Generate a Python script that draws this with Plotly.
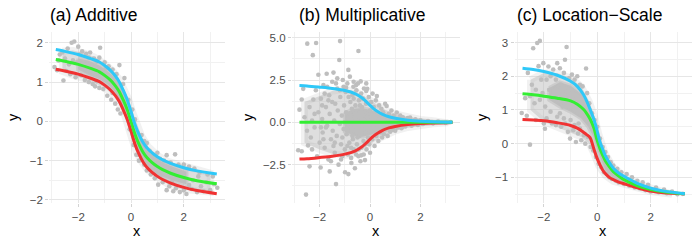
import plotly.graph_objects as go

# ---------------- data ----------------
titles = ["(a) Additive", "(b) Multiplicative", "(c) Location\u2212Scale"]

# Panel (a) quantile curves
xa_curve = [-2.85, -2.5, -2, -1.5, -1.2, -1, -0.8, -0.6, -0.45, -0.3, -0.15, 0, 0.15, 0.3, 0.45, 0.6, 0.8, 1, 1.2, 1.5, 2, 2.5, 3.25]
a_blue = [1.825, 1.78, 1.70, 1.59, 1.51, 1.42, 1.31, 1.16, 1.01, 0.80, 0.56, 0.25, -0.08, -0.33, -0.53, -0.67, -0.80, -0.90, -0.98, -1.07, -1.18, -1.26, -1.34]
a_green = [1.575, 1.53, 1.45, 1.34, 1.26, 1.17, 1.06, 0.91, 0.76, 0.55, 0.31, 0.0, -0.33, -0.58, -0.78, -0.92, -1.05, -1.15, -1.23, -1.32, -1.43, -1.51, -1.59]
a_red = [1.325, 1.28, 1.20, 1.09, 1.01, 0.92, 0.81, 0.66, 0.51, 0.30, 0.06, -0.25, -0.58, -0.83, -1.03, -1.17, -1.30, -1.40, -1.48, -1.57, -1.68, -1.76, -1.84]

# Panel (a) cloud: sparse outer zone and dense core
a_outer_x = [-2.6, -2.2, -1.8, -1.4, -1.0, -0.7, -0.45, -0.25, -0.1, 0.05, 0.2, 0.4, 0.65, 1.0, 1.4, 1.9, 2.4, 3.0]
a_outer_hi = [1.78, 1.8, 1.74, 1.64, 1.47, 1.29, 1.08, 0.84, 0.58, 0.26, -0.07, -0.37, -0.64, -0.86, -1.02, -1.12, -1.22, -1.32]
a_outer_lo = [1.27, 1.17, 1.09, 1.0, 0.86, 0.68, 0.44, 0.17, -0.16, -0.48, -0.78, -1.03, -1.25, -1.44, -1.6, -1.72, -1.78, -1.8]
a_band_x = [-2.0, -1.6, -1.2, -0.9, -0.6, -0.4, -0.2, 0, 0.2, 0.4, 0.6, 0.9, 1.2, 1.6, 2.1]
a_band_hi = [1.6, 1.54, 1.42, 1.28, 1.1, 0.88, 0.6, 0.18, -0.26, -0.54, -0.74, -0.92, -1.05, -1.16, -1.28]
a_band_lo = [1.32, 1.18, 1.08, 0.95, 0.74, 0.5, 0.22, -0.18, -0.64, -0.91, -1.1, -1.3, -1.41, -1.51, -1.6]

# Panel (a) scattered points
a_pts_x = [-2.25, -2.15, -2.4, -2.0, -1.85, -1.7, -1.55, -1.4, -1.2, -1.17, -1.0, -0.85, -0.7, -0.44, -0.55, -0.3, -0.25, -2.7, -2.6, -1.95, -1.6, -1.3, -0.95,
           -2.9, -2.8, -2.56, -2.3, -2.1, -1.9, -1.75, -1.6, -1.45, -1.36, -1.2, -1.05, -0.9, -0.75, -0.6, -0.5, -0.4, -2.45, -1.3, -0.7,
           -0.1, 0.05, 0.15, -0.05, 0.1, 0.25, 0.3, 0.2,
           0.4, 0.5, 0.6, 0.7, 0.85, 0.95, 1.1, 1.25, 1.35, 1.5, 1.67, 1.8, 2.0, 2.2, 2.4, 2.6, 2.9, 3.1, 1.0, 0.55,
           0.5, 0.6, 0.75, 0.9, 1.03, 1.2, 1.35, 1.45, 1.6, 1.7, 1.85, 2.0, 2.1, 2.3, 2.5, 2.75, 3.0, 3.27, 0.4, 0.3, 1.1, 1.55, 2.2, 2.65, 0.8,
           -2.75, -2.5, -2.35, -2.2, -2.05, -1.8, -1.65, -1.5, -1.25, -1.1, 1.3, 1.75, 1.95, 2.35, 2.55, 2.85, 3.15]
a_pts_y = [2.0, 2.03, 1.85, 1.9, 1.78, 1.72, 1.75, 1.6, 1.62, 1.87, 1.5, 1.4, 1.32, 1.43, 1.2, 0.95, 1.1, 1.7, 1.75, 1.7, 1.62, 1.52, 1.35,
           1.38, 1.3, 1.04, 1.2, 1.12, 1.18, 1.05, 1.0, 0.95, 0.89, 0.85, 0.82, 0.65, 0.55, 0.45, 0.3, 0.2, 1.28, 1.02, 0.72,
           0.55, 0.3, 0.05, -0.2, -0.6, -0.3, -1.0, -0.85,
           -0.35, -0.5, -0.55, -0.75, -0.85, -0.95, -0.95, -1.0, -0.86, -1.05, -0.84, -1.1, -1.1, -1.15, -1.2, -1.3, -1.35, -1.4, -0.8, -0.65,
           -1.1, -1.25, -1.35, -1.45, -1.61, -1.55, -1.75, -1.65, -1.78, -1.7, -1.8, -1.75, -1.85, -1.72, -1.8, -1.78, -1.75, -1.69, -0.95, -0.85, -1.4, -1.55, -1.62, -1.65, -1.2,
           1.55, 1.6, 1.45, 1.55, 1.5, 1.45, 1.3, 1.4, 1.3, 1.2, -1.3, -1.45, -1.35, -1.5, -1.4, -1.55, -1.6]

# Panel (b) quantile curves
xb_curve = [-2.8, -2.5, -2, -1.5, -1, -0.6, -0.3, -0.15, 0, 0.15, 0.3, 0.5, 0.75, 1, 1.5, 2, 2.5, 3.27]
b_blue = [2.17, 2.15, 2.08, 2.0, 1.88, 1.7, 1.42, 1.22, 1.0, 0.8, 0.64, 0.47, 0.33, 0.24, 0.13, 0.07, 0.035, 0.01]
b_red = [-2.17, -2.15, -2.08, -2.0, -1.88, -1.7, -1.42, -1.22, -1.0, -0.8, -0.64, -0.47, -0.33, -0.24, -0.13, -0.07, -0.035, -0.01]
xb_green = [-2.8, 3.27]
b_green = [0.0, 0.0]

b_outer_x = [-2.6, -2.0, -1.5, -1.0, -0.6, -0.3, 0, 0.3, 0.6, 1.0, 1.5, 2.0, 2.5, 3.1]
b_outer_hi = [1.2, 1.6, 1.85, 1.95, 1.85, 1.6, 1.3, 1.0, 0.75, 0.5, 0.3, 0.17, 0.09, 0.03]
b_outer_lo = [-1.2, -1.6, -1.85, -1.95, -1.85, -1.6, -1.3, -1.0, -0.75, -0.5, -0.3, -0.17, -0.09, -0.03]
b_band_x = [-1.0, -0.6, -0.3, 0, 0.3, 0.6, 1.0, 1.5, 2.0, 2.5, 3.1]
b_band_hi = [0.55, 0.8, 0.85, 0.75, 0.6, 0.45, 0.3, 0.18, 0.1, 0.05, 0.02]
b_band_lo = [-0.55, -0.8, -0.85, -0.75, -0.6, -0.45, -0.3, -0.18, -0.1, -0.05, -0.02]

b_pts_x = [-2.85, -2.71, -2.71, -2.65, -2.54, -2.49, -2.46, -2.6, -2.5, -2.4, -2.35, -2.3, -2.27, -2.25, -2.2, -2.14, -2.1, -2.05, -2.05, -2.0, -2.8, -2.4, -2.15, -2.3,
           -1.96, -1.95, -1.9, -1.88, -1.85, -1.8, -1.75, -1.72, -1.7, -1.65, -1.62, -1.6, -1.55, -1.5, -1.48, -1.45, -1.42, -1.4, -1.38, -1.35, -1.32, -1.3, -1.28, -1.25,
           -1.22, -1.2, -1.19, -1.18, -1.15, -1.12, -1.1, -1.08, -1.05, -1.03, -1.0, -1.0, -1.85, -1.5, -1.6, -1.3, -1.1, -1.45, -1.9, -1.75,
           -0.99, -0.97, -0.95, -0.93, -0.9, -0.88, -0.86, -0.86, -0.84, -0.82, -0.8, -0.78, -0.76, -0.74, -0.72, -0.7, -0.68, -0.66, -0.64, -0.62, -0.6, -0.58,
           -0.56, -0.54, -0.52, -0.5, -0.48, -0.46, -0.46, -0.44, -0.42, -0.4, -0.38, -0.37, -0.35, -0.34, -0.32, -0.3, -0.9, -0.8, -0.7, -0.6, -0.5, -0.4, -0.65, -0.55, -0.85, -0.75,
           -0.28, -0.26, -0.24, -0.22, -0.2, -0.18, -0.16, -0.14, -0.11, -0.1, -0.08, -0.05, -0.03, 0.0, 0.02, 0.05, 0.08, 0.1, 0.12, 0.15, 0.18, 0.2, 0.23, 0.25, 0.27, 0.3, 0.33, 0.36, 0.4, 0.45, 0.48, -0.25, 0.0, -0.15,
           0.52, 0.55, 0.6, 0.62, 0.66, 0.7, 0.75, 0.8, 0.85, 0.9, 0.95, 1.0, 1.06, 1.1, 1.2, 1.25, 1.3, 1.4, 1.5, 1.59, 1.65, 1.8, 1.9, 2.0, 2.1, 2.3, 2.5, 2.7, 3.0, 3.2, 0.7, 0.9, 1.15,
           -1.7, -1.55, -1.35, -1.15, -0.95, -0.75, -0.55, -0.35, -0.15, -1.65, -1.4, -1.2, -0.9, -0.65, -0.45, -0.2, -2.2, -1.95, -1.8, -1.05]
b_pts_y = [-1.65, -1.71, 1.35, 1.98, -4.27, 4.65, -1.36, 0.3, -0.5, 0.9, -0.9, 0.1, 3.97, 1.35, -0.3, 4.69, -2.0, 2.81, 0.6, -1.2, 0.75, -2.6, 1.9, -1.6,
           -2.67, 1.4, 0.2, -0.6, 2.2, -1.5, 0.9, 2.87, -0.2, -2.2, 1.6, 0.5, -1.0, 2.4, -0.5, 2.94, 0.1, -1.8, 1.1, -3.65, -0.8, 2.0, 0.7, -2.5,
           3.68, -0.1, 4.8, 1.5, -1.3, 0.4, -2.0, 2.5, -0.4, 1.0, -1.6, 0.0, -1.0, 1.2, -2.9, 2.6, -0.9, -1.4, 1.0, -0.3,
           -2.95, 1.8, 0.6, -0.7, 2.3, -1.9, 3.1, -3.06, 0.2, -1.2, 2.7, 1.2, -0.3, -2.4, 0.8, 1.6, -1.0, 2.1, -1.6, 0.4, -2.71, 1.0,
           -0.5, 1.9, -1.3, 0.1, 2.3, 4.22, -2.0, 1.3, -0.8, 0.6, -2.3, 2.42, 1.7, -1.5, 0.9, -0.2, -0.4, 0.5, -0.8, 0.3, -0.9, 1.0, 1.4, -1.9, 1.5, -1.5,
           1.4, -1.1, 2.0, 0.4, -2.23, -0.6, 1.1, -1.6, 1.98, 0.3, -0.9, 1.5, -1.3, 0.7, -0.4, 1.2, -1.0, 1.7, -0.3, 0.9, -1.4, 0.3, 1.3, -0.8, 1.55, 0.5, -1.1, 1.0, -0.6, 0.8, -0.9, -1.9, -1.8, 2.3,
           0.6, -0.7, 1.1, -0.4, 0.97, -0.8, 0.5, -0.55, 0.7, -0.45, 0.4, -0.5, 0.58, -0.3, 0.4, -0.35, 0.3, -0.25, 0.25, 0.29, -0.2, 0.18, -0.15, 0.12, -0.1, 0.08, -0.06, 0.05, -0.03, 0.02, 0.2, 0.1, -0.15,
           2.1, -2.3, 2.3, -2.2, 2.05, -2.1, 2.2, -1.95, 1.85, 1.3, -1.2, 1.9, -1.4, 2.4, -1.6, -1.3, 0.5, -0.3, 1.7, 2.1]

# Panel (c) quantile curves
xc_curve = [-2.8, -2.4, -2, -1.5, -1, -0.75, -0.52, -0.4, -0.27, -0.12, -0.025, 0.1, 0.2, 0.29, 0.45, 0.6, 0.8, 1, 1.5, 2, 2.5, 3.28]
c_blue = [2.24, 2.2, 2.14, 2.03, 1.85, 1.7, 1.46, 1.27, 1.02, 0.7, 0.44, 0.05, -0.16, -0.34, -0.56, -0.73, -0.87, -0.97, -1.18, -1.32, -1.41, -1.49]
c_green = [1.48, 1.45, 1.41, 1.35, 1.27, 1.17, 1.02, 0.9, 0.73, 0.45, 0.15, -0.15, -0.34, -0.49, -0.68, -0.83, -0.96, -1.07, -1.25, -1.36, -1.43, -1.49]
c_red = [0.72, 0.7, 0.68, 0.62, 0.54, 0.46, 0.34, 0.27, 0.18, -0.18, -0.4, -0.63, -0.78, -0.88, -1.0, -1.07, -1.14, -1.19, -1.31, -1.41, -1.46, -1.49]

c_outer_x = [-2.5, -2.0, -1.5, -1.0, -0.6, -0.3, -0.1, 0.05, 0.3, 0.6, 1.0, 1.5, 2.0, 2.8]
c_outer_hi = [1.9, 2.1, 2.1, 1.95, 1.7, 1.25, 0.8, 0.3, -0.3, -0.7, -0.95, -1.17, -1.31, -1.45]
c_outer_lo = [1.0, 0.65, 0.5, 0.32, 0.2, 0.0, -0.35, -0.65, -0.95, -1.12, -1.22, -1.33, -1.42, -1.5]
c_band_x = [-1.8, -1.4, -1.0, -0.6, -0.35, -0.15, 0, 0.1, 0.3, 0.6, 1.0, 1.5, 2.0, 2.8]
c_band_hi = [1.65, 1.82, 1.72, 1.48, 1.13, 0.73, 0.33, 0.03, -0.4, -0.77, -1.0, -1.2, -1.34, -1.47]
c_band_lo = [1.3, 1.1, 0.95, 0.75, 0.52, 0.22, -0.18, -0.4, -0.78, -1.01, -1.15, -1.29, -1.39, -1.49]

c_pts_x = [-2.83, -2.64, -2.52, -2.7, -2.52, -2.4, -2.25, -2.15, -2.6, -2.45, -2.35, -2.3, -2.2, -2.1, -2.05, -2.02, -1.96, -1.95, -1.9, -1.83, -1.8, -1.75, -1.7, -1.65,
           -1.6, -1.55, -1.5, -1.45, -1.4, -1.35, -1.3, -1.25, -1.21, -1.15, -1.1, -1.05, -1.02, -0.95, -0.9, -0.85, -0.8, -0.75, -0.72, -0.65, -0.6, -0.55, -0.5,
           -0.42, -0.45, -0.38, -0.35, -0.3, -0.25, -0.2, -0.15, -0.1, -0.05, 0.0, -2.0, -1.2, -0.7, -1.4,
           0.05, 0.1, 0.15, 0.2, 0.25, 0.3, 0.35, 0.4, 0.45, 0.5, 0.55, 0.6, 0.7, 0.75, 0.8, 0.9, 1.0, 1.1, 1.2, 1.3, 1.4, 1.5, 1.6, 1.7, 1.8, 1.9, 2.0, 2.2, 2.3, 2.5, 2.6, 2.8, 3.0, 3.2,
           -2.3, -2.15, -1.9, -1.7, -1.55, -1.35, -1.15, -0.95, -0.8, -0.6, -1.75, -1.5, -1.25, -1.0, -0.85, -0.65]
c_pts_y = [0.91, 0.83, -0.03, 1.35, 1.41, 2.83, 2.99, 3.05, 2.1, 1.75, 1.2, 0.7, 2.3, 1.9, 1.5, 2.39, 0.44, 1.1, 0.75, 2.29, 1.6, 2.0, 0.6, 2.2,
           1.3, 0.55, 2.39, 1.7, 2.24, 0.5, 1.1, 2.1, 2.49, 2.87, 0.35, 1.95, 0.15, 2.05, 0.4, 1.9, 0.05, 2.0, 0.3, 1.75, 0.1, 1.7, 0.25,
           2.23, 0.0, 1.5, 0.2, 1.2, -0.1, 0.9, -0.2, 0.7, -0.4, 0.5, 0.6, 0.6, 0.6, 0.9,
           -0.6, 0.15, -0.7, -0.1, -0.85, -0.25, -0.9, -0.4, -1.0, -0.55, -1.05, -0.65, -1.1, -0.75, -1.15, -0.85, -1.2, -0.9, -1.25, -1.0, -1.3, -1.1, -1.33, -1.15, -1.38, -1.22, -1.42, -1.3, -1.44, -1.36, -1.47, -1.42, -1.5, -1.49,
           1.6, 1.3, 1.9, 1.4, 1.9, 1.75, 1.55, 1.6, 1.3, 1.35, 0.95, 0.8, 0.75, 0.7, 0.55, 0.45]

x_ticks = [-2, 0, 2]
x_ticktext = ["\u22122", "0", "2"]
x_minor = [-3, -1, 1, 3]
a_yticks = [-2, -1, 0, 1, 2]
a_yticktext = ["\u22122", "\u22121", "0", "1", "2"]
a_yminor = [-1.5, -0.5, 0.5, 1.5]
b_yticks = [-2.5, 0, 2.5, 5]
b_yticktext = ["\u22122.5", "0.0", "2.5", "5.0"]
b_yminor = [-3.75, -1.25, 1.25, 3.75]
c_yticks = [-1, 0, 1, 2, 3]
c_yticktext = ["\u22121", "0", "1", "2", "3"]
c_yminor = [-1.5, -0.5, 0.5, 1.5, 2.5]

# ---------------- styling ----------------
W, H = 700, 250
PT_COLOR = "#BEBEBE"
BLUE = "#2EC8F8"
GREEN = "#33EE33"
RED = "#F03232"
FONT = "Liberation Sans"
LAYER_STYLE = {
    "outer": dict(fill="rgba(190,190,190,0.5)", edge="rgba(190,190,190,0.22)", edge_w=7),
    "band": dict(fill=PT_COLOR, edge="rgba(190,190,190,0.55)", edge_w=4),
}

panels = [
    dict(xd=(49.2, 224.7), xr=[-3.1, 3.55], yr=[-2.07, 2.26],
         yt=a_yticks, ytt=a_yticktext, ym=a_yminor,
         outer=(a_outer_x, a_outer_hi, a_outer_lo),
         band=(a_band_x, a_band_hi, a_band_lo), pts=(a_pts_x, a_pts_y),
         curves=[(xa_curve, a_red, RED), (xa_curve, a_green, GREEN), (xa_curve, a_blue, BLUE)],
         title_x=48, ylab_x=13),
    dict(xd=(291.9, 459.5), xr=[-3.1, 3.55], yr=[-4.75, 5.31],
         yt=b_yticks, ytt=b_yticktext, ym=b_yminor,
         outer=(b_outer_x, b_outer_hi, b_outer_lo),
         band=(b_band_x, b_band_hi, b_band_lo), pts=(b_pts_x, b_pts_y),
         curves=[(xb_curve, b_red, RED), (xb_green, b_green, GREEN), (xb_curve, b_blue, BLUE)],
         title_x=297, ylab_x=248),
    dict(xd=(514.5, 692.1), xr=[-3.1, 3.55], yr=[-1.754, 3.30],
         yt=c_yticks, ytt=c_yticktext, ym=c_yminor,
         outer=(c_outer_x, c_outer_hi, c_outer_lo),
         band=(c_band_x, c_band_hi, c_band_lo), pts=(c_pts_x, c_pts_y),
         curves=[(xc_curve, c_red, RED), (xc_curve, c_green, GREEN), (xc_curve, c_blue, BLUE)],
         title_x=515, ylab_x=482),
]

PANEL_TOP, PANEL_BOTTOM = 32, 205

fig = go.Figure()
annotations = []
layout = {}
for i, p in enumerate(panels, start=1):
    xa = "x" if i == 1 else f"x{i}"
    ya = "y" if i == 1 else f"y{i}"
    for key in ("outer", "band"):
        st = LAYER_STYLE[key]
        bx, bhi, blo = p[key]
        fig.add_trace(go.Scatter(
            x=list(bx) + list(bx)[::-1] + [bx[0]], y=list(bhi) + list(blo)[::-1] + [bhi[0]],
            mode="lines", fill="toself", fillcolor=st["fill"],
            line=dict(width=st["edge_w"], color=st["edge"]),
            hoverinfo="skip", xaxis=xa, yaxis=ya))
    fig.add_trace(go.Scatter(
        x=p["pts"][0], y=p["pts"][1], mode="markers",
        marker=dict(color=PT_COLOR, size=4.6, line=dict(width=0)),
        hoverinfo="skip", xaxis=xa, yaxis=ya))
    for cx, cy, col in p["curves"]:
        fig.add_trace(go.Scatter(x=cx, y=cy, mode="lines",
                                 line=dict(color=col, width=3, shape="spline", smoothing=0.8),
                                 hoverinfo="skip", xaxis=xa, yaxis=ya))
    common = dict(showgrid=True, gridcolor="#E6E6E6", gridwidth=1, zeroline=False, showline=False,
                  ticks="outside", ticklen=3, tickwidth=1, tickcolor="#D3D3D3",
                  tickfont=dict(family=FONT, size=11.5, color="#4D4D4D"))
    layout["xaxis" if i == 1 else f"xaxis{i}"] = dict(
        domain=[p["xd"][0] / W, p["xd"][1] / W], range=p["xr"], anchor=ya,
        tickvals=x_ticks, ticktext=x_ticktext,
        minor=dict(tickvals=x_minor, showgrid=True, gridcolor="#F1F1F1", gridwidth=1),
        **common)
    layout["yaxis" if i == 1 else f"yaxis{i}"] = dict(
        domain=[1 - PANEL_BOTTOM / H, 1 - PANEL_TOP / H], range=p["yr"], anchor=xa,
        tickvals=p["yt"], ticktext=p["ytt"],
        minor=dict(tickvals=p["ym"], showgrid=True, gridcolor="#F1F1F1", gridwidth=1),
        **common)
    annotations.append(dict(text=titles[i - 1], xref="paper", yref="paper",
                            x=p["title_x"] / W, y=1 - 14 / H, xanchor="left", yanchor="middle",
                            showarrow=False, font=dict(family=FONT, size=17.5, color="#000000")))
    annotations.append(dict(text="x", xref="paper", yref="paper",
                            x=(p["xd"][0] + p["xd"][1]) / 2 / W, y=1 - 234 / H,
                            xanchor="center", yanchor="middle", showarrow=False,
                            font=dict(family=FONT, size=14.5, color="#000000")))
    annotations.append(dict(text="y", xref="paper", yref="paper",
                            x=p["ylab_x"] / W, y=1 - 118 / H, textangle=-90,
                            xanchor="center", yanchor="middle", showarrow=False,
                            font=dict(family=FONT, size=14.5, color="#000000")))

fig.update_layout(
    width=W, height=H, margin=dict(l=0, r=0, t=0, b=0),
    paper_bgcolor="white", plot_bgcolor="white", showlegend=False,
    hovermode=False, annotations=annotations, **layout)

fig.write_html("out.html", config={"displayModeBar": False},
               post_script="document.body.style.margin='0';")
